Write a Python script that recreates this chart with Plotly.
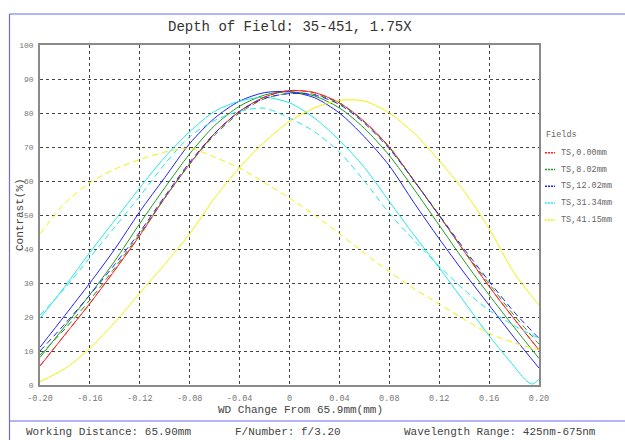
import plotly.graph_objects as go

# ---- data ----
X = [-0.20, -0.18, -0.16, -0.14, -0.12, -0.10, -0.08, -0.06, -0.04, -0.02, 0.00,
     0.02, 0.04, 0.06, 0.08, 0.10, 0.12, 0.14, 0.16, 0.18, 0.20]
X_CYAN_T = [-0.20, -0.18, -0.16, -0.14, -0.12, -0.10, -0.08, -0.06, -0.04, -0.02, 0.00,
            0.02, 0.04, 0.06, 0.08, 0.10, 0.12, 0.14, 0.16, 0.18, 0.19, 0.195, 0.20]

red_T = [5.6, 14.8, 24, 33.8, 44, 55, 65, 74, 80.5, 84.7, 86.6, 86, 83, 77.5, 70, 60, 49.8, 39.3, 29, 19.5, 10.3]
red_S = [5.6, 14.8, 24, 33.8, 44, 55, 65, 74, 80.5, 84.7, 86.6, 86, 83, 77.5, 70, 60, 49.8, 39.3, 29, 19.5, 10.3]
green_T = [8.1, 17.3, 26.6, 36.5, 47.5, 58, 68, 76.3, 82, 85.3, 86.3, 85, 81.5, 75.5, 67.5, 57.5, 47, 36.5, 26.5, 17, 7.8]
green_S = [8.8, 16.5, 25, 34.5, 44.5, 55, 65, 73.5, 80, 84.2, 85.8, 85.5, 82.8, 77.3, 69.8, 60, 49.8, 39.5, 29.8, 20.5, 12]
blue_T = [11.1, 20.5, 30, 40, 51, 61, 71, 78.5, 83.5, 86, 86.2, 84.5, 80, 73, 64.5, 53.5, 43, 33, 23.5, 14, 5]
blue_S = [10, 18, 26.5, 35.5, 45, 55.5, 65.5, 74, 80.5, 84.3, 85.7, 85.3, 82.5, 77, 69.5, 60, 50, 40, 30.5, 21.5, 13.7]
cyan_T = [19.6, 29, 39, 48.5, 58, 67, 74.5, 80.5, 83.5, 84.6, 83, 78.5, 72, 64, 54, 44, 34.5, 24.5, 14.5, 5.5, 1.2, 0.3, 1.7]
cyan_S = [20.5, 28.5, 37.5, 46.5, 55.5, 65, 73, 77.8, 80.5, 81.4, 78.5, 74.5, 68.5, 60, 50.5, 42.5, 35, 28, 22, 17.5, 13.7]
yellow_T = [1, 4.8, 10.8, 18.5, 27, 35.5, 44.5, 55, 64, 71.5, 77.5, 81.5, 83.7, 83.5, 80, 74, 66, 57, 46, 33, 23.5]
yellow_S = [44.5, 53.5, 59.5, 63.5, 66.3, 68.5, 69.6, 67, 63.8, 59.5, 55, 50, 44.5, 38.8, 33.3, 28.3, 23.8, 19.3, 15.2, 12.4, 10.3]

FIELDS = ["TS,0.00mm", "TS,8.02mm", "TS,12.02mm", "TS,31.34mm", "TS,41.15mm"]
COLORS = ["#ff2020", "#1f9a1f", "#2020ff", "#22e8e8", "#f2f200"]

X_TICKS = [-0.20, -0.16, -0.12, -0.08, -0.04, 0.0, 0.04, 0.08, 0.12, 0.16, 0.20]
X_TICKTEXT = ["-0.20", "-0.16", "-0.12", "-0.08", "-0.04", "0", "0.04", "0.08", "0.12", "0.16", "0.20"]
Y_TICKS = [0, 10, 20, 30, 40, 50, 60, 70, 80, 90, 100]

TITLE = "Depth of Field: 35-451, 1.75X"
X_TITLE = "WD Change From 65.9mm(mm)"
Y_TITLE = "Contrast(%)"
FOOTER = ["Working Distance: 65.90mm", "F/Number: f/3.20", "Wavelength Range: 425nm-675nm"]

FONT = "Liberation Mono"

solids = [(X, red_T), (X, green_T), (X, blue_T), (X_CYAN_T, cyan_T), (X, yellow_T)]
dashes = [(X, red_S), (X, green_S), (X, blue_S), (X, cyan_S), (X, yellow_S)]

fig = go.Figure()
for (xs, ys), c, name in zip(solids, COLORS, FIELDS):
    fig.add_trace(go.Scatter(x=xs, y=ys, mode="lines", name=name, showlegend=False,
                             line=dict(color=c, width=1, shape="spline", smoothing=0.8)))
for (xs, ys), c, name in zip(dashes, COLORS, FIELDS):
    fig.add_trace(go.Scatter(x=xs, y=ys, mode="lines", name=name + " S", showlegend=False,
                             line=dict(color=c, width=1, dash="6px,4px", shape="spline", smoothing=0.8)))

# geometry helpers (figure pixels -> paper)
L, R, T, B = 40, 86, 45, 55
W, H = 625, 440
PW, PH = W - L - R, H - T - B


def px(xp):
    return (xp - L) / PW


def py(yp):
    return (H - B - yp) / PH


shapes = []
blue = "#6b6bef"
# outer frame lines
shapes.append(dict(type="line", xref="paper", yref="paper", x0=px(9.5), x1=px(625), y0=py(14), y1=py(14),
                   line=dict(color=blue, width=1.2)))
shapes.append(dict(type="line", xref="paper", yref="paper", x0=px(9.5), x1=px(9.5), y0=py(14), y1=py(440),
                   line=dict(color=blue, width=1.2)))
shapes.append(dict(type="line", xref="paper", yref="paper", x0=px(9.5), x1=px(625), y0=py(421), y1=py(421),
                   line=dict(color=blue, width=1.2)))

annotations = []
annotations.append(dict(text=TITLE, xref="paper", yref="paper", x=0.5, y=py(27), xanchor="center",
                        yanchor="middle", showarrow=False, font=dict(family=FONT, size=14, color="#333333")))
annotations.append(dict(text=X_TITLE, xref="paper", yref="paper", x=px(300), y=py(410), xanchor="center",
                        yanchor="middle", showarrow=False, font=dict(family=FONT, size=11, color="#444444")))
annotations.append(dict(text=Y_TITLE, xref="paper", yref="paper", x=px(20), y=py(215), xanchor="center",
                        yanchor="middle", textangle=-90, showarrow=False,
                        font=dict(family=FONT, size=11, color="#444444")))
for txt, xp in zip(FOOTER, [24, 233, 402]):
    annotations.append(dict(text=txt, xref="paper", yref="paper", x=px(xp), y=py(432), xanchor="left",
                            yanchor="middle", showarrow=False, font=dict(family=FONT, size=11, color="#444444")))

# manual legend
annotations.append(dict(text="Fields", xref="paper", yref="paper", x=px(544), y=py(135), xanchor="left",
                        yanchor="middle", showarrow=False, font=dict(family=FONT, size=8.5, color="#666666")))
for i, (name, c) in enumerate(zip(FIELDS, COLORS)):
    yy = 152.7 + i * 16.8
    shapes.append(dict(type="line", xref="paper", yref="paper", x0=px(545), x1=px(555), y0=py(yy), y1=py(yy),
                       line=dict(color=c, width=1.5, dash="2px,1px")))
    annotations.append(dict(text=name, xref="paper", yref="paper", x=px(559), y=py(yy), xanchor="left",
                            yanchor="middle", showarrow=False, font=dict(family=FONT, size=8.5, color="#666666")))

fig.update_layout(
    width=W, height=H,
    margin=dict(l=L, r=R, t=T, b=B),
    paper_bgcolor="white", plot_bgcolor="white",
    showlegend=False,
    shapes=shapes, annotations=annotations,
    font=dict(family=FONT),
)
fig.update_xaxes(range=[-0.2, 0.2], tickvals=X_TICKS, ticktext=X_TICKTEXT, showgrid=True,
                 gridcolor="#444444", griddash="dot", gridwidth=1, zeroline=False,
                 showline=True, mirror=True, linecolor="#8a8a8a", linewidth=1.5,
                 ticks="", ticklabelstandoff=4,
                 tickfont=dict(family=FONT, size=8.5, color="#777777"))
fig.update_yaxes(range=[0, 100], tickvals=Y_TICKS, showgrid=True,
                 gridcolor="#444444", griddash="dot", gridwidth=1, zeroline=False,
                 showline=True, mirror=True, linecolor="#8a8a8a", linewidth=1.5,
                 ticks="", ticklabelstandoff=3,
                 tickfont=dict(family=FONT, size=8, color="#777777"))

fig.write_html("out.html", config={"displayModeBar": False},
               post_script="document.body.style.margin='0px';document.body.style.overflow='hidden';")
